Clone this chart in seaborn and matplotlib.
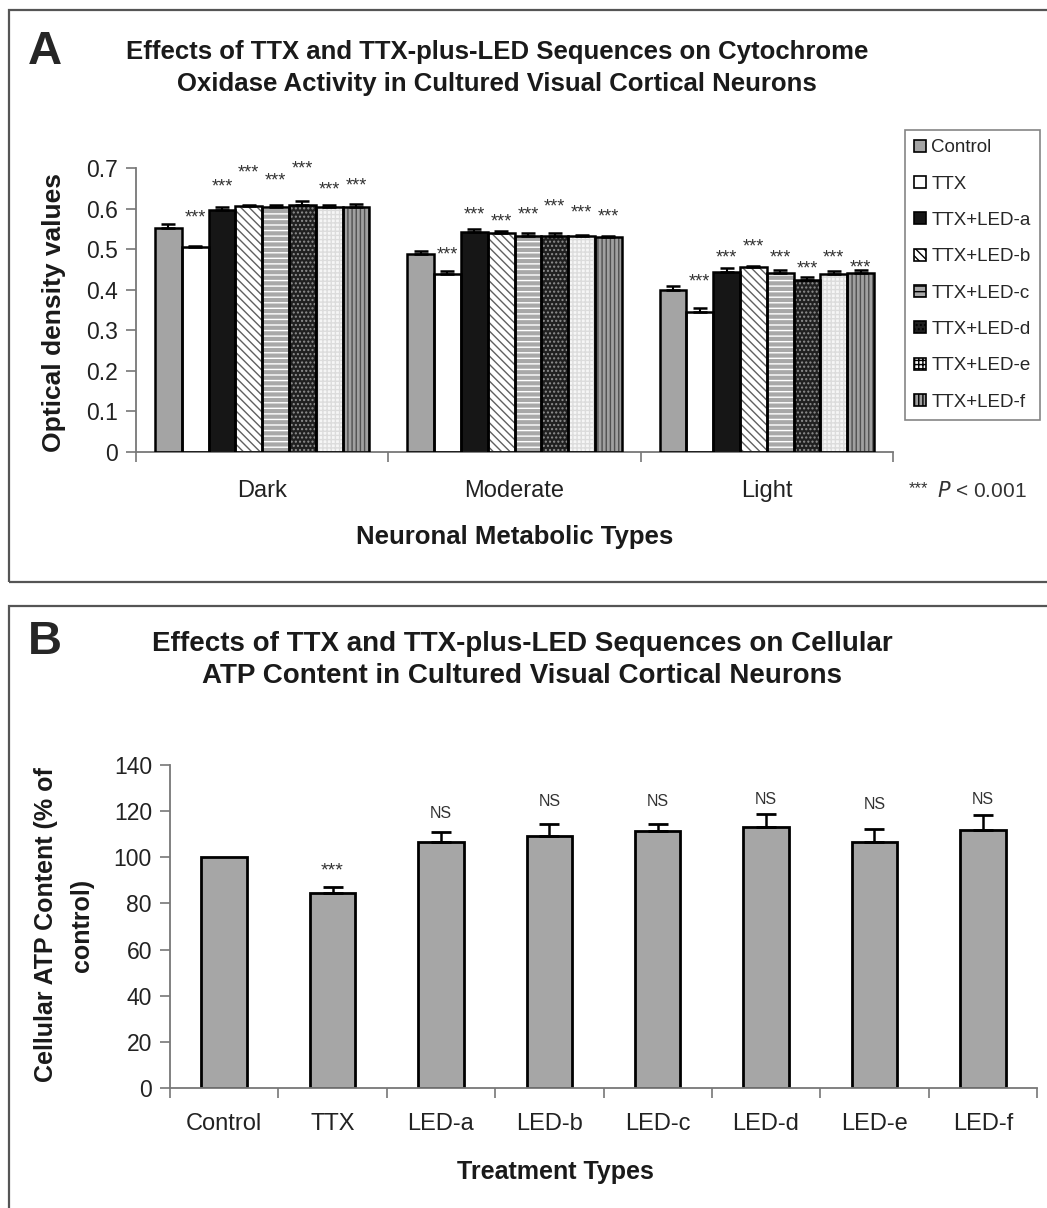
import numpy as np
import pandas as pd
import matplotlib
matplotlib.use("Agg")
import matplotlib.pyplot as plt
from matplotlib.patches import Rectangle, Patch
import seaborn as sns

sns.set_style("ticks")
plt.rcParams["font.family"] = ["Liberation Sans", "DejaVu Sans"]

# ---- data, panel A (optical density, mean and upward SEM) ----
groups = ["Dark", "Moderate", "Light"]
treatments = ["Control", "TTX", "TTX+LED-a", "TTX+LED-b",
              "TTX+LED-c", "TTX+LED-d", "TTX+LED-e", "TTX+LED-f"]
od_dark = [0.553, 0.505, 0.597, 0.606, 0.603, 0.610, 0.603, 0.603]
od_dark_err = [0.009, 0.003, 0.008, 0.003, 0.007, 0.008, 0.007, 0.008]
od_moderate = [0.487, 0.438, 0.543, 0.541, 0.533, 0.533, 0.533, 0.530]
od_moderate_err = [0.008, 0.009, 0.007, 0.004, 0.007, 0.008, 0.003, 0.003]
od_light = [0.400, 0.345, 0.444, 0.455, 0.440, 0.424, 0.438, 0.440]
od_light_err = [0.009, 0.009, 0.009, 0.003, 0.008, 0.008, 0.009, 0.008]
# height of the "***" marks above each bar
star_dark = [None, 0.578, 0.652, 0.687, 0.667, 0.697, 0.645, 0.655]
star_moderate = [None, 0.485, 0.584, 0.567, 0.584, 0.604, 0.589, 0.580]
star_light = [None, 0.420, 0.478, 0.506, 0.478, 0.450, 0.478, 0.453]

# ---- data, panel B (ATP content, % of control) ----
atp_labels = ["Control", "TTX", "LED-a", "LED-b", "LED-c", "LED-d", "LED-e", "LED-f"]
atp_mean = [100, 84.6, 106.8, 109.4, 111.4, 113.1, 106.5, 111.7]
atp_err = [0, 2.7, 4.3, 5.0, 3.0, 5.8, 5.9, 6.6]
atp_sig = ["", "***", "NS", "NS", "NS", "NS", "NS", "NS"]
atp_sig_y = [None, 94, 119, 124, 124, 125, 123, 125]

# bar looks: face colour, hatch, hatch colour
faces = ["#a4a4a4", "#ffffff", "#161616", "#ffffff",
         "#a8a8a8", "#202020", "#f6f6f6", "#a0a0a0"]
hatches = [None, None, None, "\\\\\\\\", "---", "....", "++++", "||||"]
hatch_cols = [None, None, None, "#606060", "#ffffff", "#909090", "#dcdcdc", "#505050"]

W, H = 1047, 1208
fig = plt.figure(figsize=(W / 100, H / 100), dpi=100)


def fx(px):
    return px / W


def fy(py):
    return 1 - py / H


# panel frames
for top, bot in [(10, 582), (606, 1215)]:
    fig.patches.append(Rectangle((fx(9), fy(bot)), fx(1100), fy(top) - fy(bot),
                                 transform=fig.transFigure, fill=False,
                                 edgecolor="#555555", lw=1.6))

# ================= Panel A =================
axA = fig.add_axes([fx(136), fy(452), fx(893 - 136), fy(168) - fy(452)])
rows = []
for g, vals in zip(groups, [od_dark, od_moderate, od_light]):
    for t, v in zip(treatments, vals):
        rows.append({"group": g, "treatment": t, "od": v})
dfA = pd.DataFrame(rows)
sns.barplot(data=dfA, x="group", y="od", hue="treatment", hue_order=treatments,
            order=groups, palette=faces, width=0.85, errorbar=None,
            legend=False, ax=axA, saturation=1)

errs = [od_dark_err, od_moderate_err, od_light_err]
stars = [star_dark, star_moderate, star_light]
bar_conts = list(axA.containers)
for k, cont in enumerate(bar_conts):
    for j, bar in enumerate(list(cont)):
        x0, w, h = bar.get_x(), bar.get_width(), bar.get_height()
        if hatches[k]:
            bar.set_hatch(hatches[k])
            bar.set_edgecolor(hatch_cols[k])
        else:
            bar.set_edgecolor(faces[k])
        bar.set_linewidth(0)
        axA.add_patch(Rectangle((x0, 0), w, h, fill=False, edgecolor="black",
                                lw=1.8, zorder=3))
        axA.errorbar(x0 + w / 2, h, yerr=[[0], [errs[j][k]]], fmt="none",
                     ecolor="black", elinewidth=1.5, capsize=5, capthick=1.8,
                     zorder=4)
        if stars[j][k] is not None:
            axA.text(x0 + w / 2, stars[j][k], "***", ha="center", va="center",
                     fontsize=13, color="#333333")

axA.set_ylim(0, 0.7)
axA.set_xlim(-0.5, 2.5)
axA.set_yticks(np.arange(0, 0.71, 0.1))
axA.set_yticklabels(["0", "0.1", "0.2", "0.3", "0.4", "0.5", "0.6", "0.7"])
axA.set_xticks([0, 1, 2])
axA.set_xticks([-0.5, 0.5, 1.5, 2.5], minor=True)
axA.tick_params(axis="x", which="major", length=0, labelsize=17, pad=20, colors="#222222")
axA.tick_params(axis="x", which="minor", length=7, width=1.2, color="#777777")
axA.tick_params(axis="y", length=7, width=1.2, color="#777777", labelsize=16.5,
                labelcolor="#222222", pad=6)
axA.set_xlabel("")
axA.set_ylabel("")
sns.despine(ax=axA)
for s in ["left", "bottom"]:
    axA.spines[s].set_color("#777777")
    axA.spines[s].set_linewidth(1.3)

fig.text(fx(54), fy(313), "Optical density values", rotation=90, ha="center",
         va="center", fontsize=19, fontweight="bold", color="#1a1a1a")
fig.text(fx(515), fy(537), "Neuronal Metabolic Types", ha="center", va="center",
         fontsize=18.5, fontweight="bold", color="#1a1a1a")
fig.text(fx(45), fy(52), "A", ha="center", va="center", fontsize=34,
         fontweight="bold")
fig.text(fx(497), fy(68), "Effects of TTX and TTX-plus-LED Sequences on Cytochrome\n"
         "Oxidase Activity in Cultured Visual Cortical Neurons", ha="center",
         va="center", fontsize=18.5, fontweight="bold", linespacing=1.38,
         color="#1a1a1a")
fig.text(fx(909), fy(489), "***", ha="left", va="center", fontsize=12, color="#333333")
fig.text(fx(937), fy(491), "$P$ < 0.001", ha="left", va="center", fontsize=15,
         color="#333333")

handles = []
for k, t in enumerate(treatments):
    handles.append(Patch(facecolor=faces[k], edgecolor="black", lw=1.2,
                         hatch=hatches[k] if hatches[k] else None, label=t))
leg = fig.legend(handles=handles, loc="upper left",
                 bbox_to_anchor=(fx(905), fy(130)), frameon=True, fontsize=13.5,
                 handlelength=0.6, handleheight=0.6, handletextpad=0.3,
                 labelspacing=1.03, borderpad=0.5, fancybox=False,
                 borderaxespad=0)
leg.get_frame().set_edgecolor("#666666")
leg.get_frame().set_linewidth(1.2)

# ================= Panel B =================
axB = fig.add_axes([fx(170), fy(1088), fx(1037 - 170), fy(765) - fy(1088)])
dfB = pd.DataFrame({"treatment": atp_labels, "atp": atp_mean})
sns.barplot(data=dfB, x="treatment", y="atp", order=atp_labels, color="#a6a6a6",
            saturation=1, width=0.42, errorbar=None, edgecolor="black",
            linewidth=2, ax=axB)
for i, bar in enumerate(list(axB.patches)):
    xc = bar.get_x() + bar.get_width() / 2
    if atp_err[i] > 0:
        axB.errorbar(xc, bar.get_height(), yerr=[[0], [atp_err[i]]], fmt="none",
                     ecolor="black", elinewidth=1.8, capsize=7, capthick=2,
                     zorder=4)
    if atp_sig[i]:
        axB.text(xc, atp_sig_y[i], atp_sig[i], ha="center", va="center",
                 fontsize=11.5 if atp_sig[i] == "NS" else 14, color="#333333")

axB.set_ylim(0, 140)
axB.set_xlim(-0.5, 7.5)
axB.set_yticks(np.arange(0, 141, 20))
axB.set_xticks(range(8))
axB.set_xticks(np.arange(-0.5, 8, 1), minor=True)
axB.tick_params(axis="x", which="major", length=0, labelsize=17, pad=18,
                labelcolor="#222222")
axB.tick_params(axis="x", which="minor", length=7, width=1.2, color="#777777")
axB.tick_params(axis="y", length=7, width=1.2, color="#777777", labelsize=16.5,
                labelcolor="#222222", pad=6)
axB.set_xlabel("")
axB.set_ylabel("")
sns.despine(ax=axB)
for s in ["left", "bottom"]:
    axB.spines[s].set_color("#777777")
    axB.spines[s].set_linewidth(1.3)

fig.text(fx(64), fy(925), "Cellular ATP Content (% of\ncontrol)", rotation=90,
         ha="center", va="center", fontsize=18, fontweight="bold",
         linespacing=1.6, color="#1a1a1a")
fig.text(fx(555), fy(1172), "Treatment Types", ha="center", va="center",
         fontsize=18, fontweight="bold", color="#1a1a1a")
fig.text(fx(45), fy(642), "B", ha="center", va="center", fontsize=34,
         fontweight="bold")
fig.text(fx(522), fy(660), "Effects of TTX and TTX-plus-LED Sequences on Cellular\n"
         "ATP Content in Cultured Visual Cortical Neurons", ha="center",
         va="center", fontsize=20, fontweight="bold", linespacing=1.28,
         color="#1a1a1a")

fig.savefig("out.png", dpi=100, facecolor="white")
